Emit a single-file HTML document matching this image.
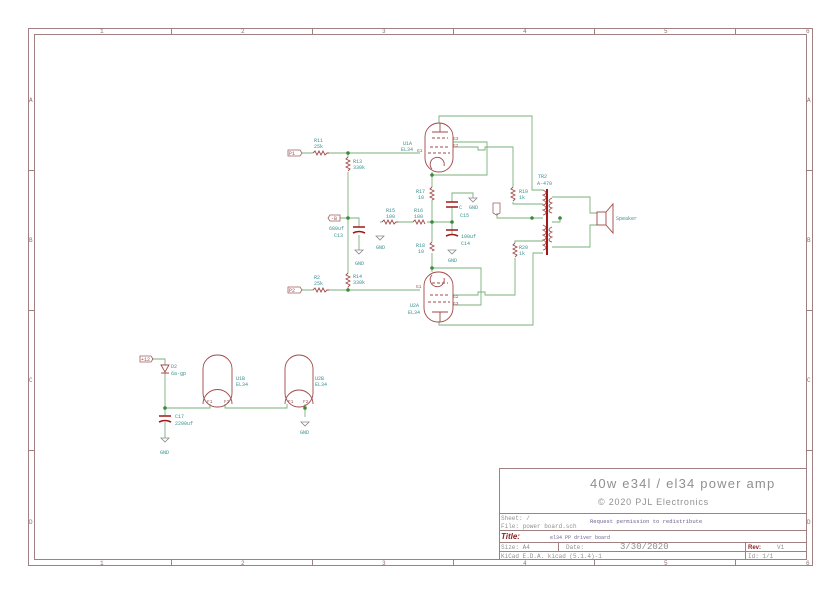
<!DOCTYPE html>
<html><head><meta charset="utf-8"><style>
html,body{margin:0;padding:0;background:#fff;}
svg{display:block;}
</style></head><body>
<svg width="840" height="593" viewBox="0 0 840 593" xmlns="http://www.w3.org/2000/svg" font-family="Liberation Mono, DejaVu Sans Mono, monospace">
<rect width="840" height="593" fill="#fff"/>
<g fill="none" stroke="#a08080" stroke-width="1">
<rect x="28.5" y="28.5" width="784" height="537"/>
<rect x="34.5" y="34.5" width="772" height="525"/>
<path d="M171.5 28v6M312.5 28v6M453.5 28v6M594.5 28v6M735.5 28v6M171.5 560v6M312.5 560v6M453.5 560v6M594.5 560v6M735.5 560v6M28 170.5h6M28 310.5h6M28 450.5h6M806 170.5h6M806 310.5h6M806 450.5h6"/>
<path d="M499.5 468v92M499.5 468.5H806M499.5 513.5H806M499.5 530.5H806M499.5 542.5H806M499.5 551.5H806M558.5 542v9M745.5 542v18"/>
</g>
<g font-size="6" fill="#907070">
<text x="100" y="33">1</text><text x="241" y="33">2</text><text x="382" y="33">3</text><text x="523" y="33">4</text><text x="664" y="33">5</text><text x="806" y="33">6</text>
<text x="100" y="565">1</text><text x="241" y="565">2</text><text x="382" y="565">3</text><text x="523" y="565">4</text><text x="664" y="565">5</text><text x="806" y="565">6</text>
<text x="29" y="102">A</text><text x="29" y="242">B</text><text x="29" y="382">C</text><text x="29" y="524">D</text>
<text x="807" y="102">A</text><text x="807" y="242">B</text><text x="807" y="382">C</text><text x="807" y="524">D</text>
</g>
<!-- title block -->
<g fill="#909090">
<text x="590" y="488" font-size="13" font-family="Liberation Sans, sans-serif" letter-spacing="1.2">40w e34l / el34 power amp</text>
<text x="598" y="505" font-size="9" font-family="Liberation Sans, sans-serif" letter-spacing="0.8">© 2020 PJL Electronics</text>
<text x="501" y="520" font-size="6">Sheet: /</text>
<text x="501" y="528" font-size="6">File: power board.sch</text>
<text x="590" y="523" font-size="5.5" fill="#706090">Request permission to redistribute</text>
<text x="550" y="539" font-size="5" fill="#706090">el34 PP  driver board</text>
<text x="501" y="549" font-size="6">Size: A4</text>
<text x="566" y="549" font-size="6">Date:</text>
<text x="620" y="549" font-size="9">3/30/2020</text>
<text x="777" y="549" font-size="6">V1</text>
<text x="501" y="558" font-size="6">KiCad E.D.A.  kicad (5.1.4)-1</text>
<text x="748" y="558" font-size="6">Id: 1/1</text>
</g>
<text x="501" y="539" font-size="8" font-weight="bold" font-style="italic" fill="#902020" font-family="Liberation Sans, sans-serif">Title:</text>
<text x="748" y="549" font-size="6" font-weight="bold" fill="#902020" font-family="Liberation Sans, sans-serif">Rev:</text>

<!-- wires -->
<g fill="none" stroke="#7ab07a" stroke-width="0.9">
<path d="M302 153H313M329 153H420M348 153V157M348 172V273M348 287V290M302 290H313M329 290H420"/>
<path d="M340 218H359V227M359 235V250"/>
<path d="M380 222H382M398 222H413M427 222H452V235M452 207V222M452 202V193H473V198"/>
<path d="M432 172V187M432 200V242M432 253V272"/>
<path d="M439 123V116H532V190H543M439 322V325H533V253H543"/>
<path d="M453 142H487V175H432M453 147H478V150H485V147H513V187M513 202V204H543"/>
<path d="M432 268H481V305H453M453 295H478V292H485V295H515V258M515 243V241H543"/>
<path d="M497 213V218H543"/>
<path d="M552 197H590V213H597M552 247H590V225H597M552 222H560V218"/>
<path d="M152 359H165V365M165 373V416M165 422V438M165 408H210V404M225 404V408H287V404M305 404V417"/>
</g>
<g fill="#3a8a3a">
<circle cx="348" cy="153" r="1.8"/><circle cx="348" cy="218" r="1.8"/><circle cx="348" cy="290" r="1.8"/>
<circle cx="432" cy="175" r="1.8"/><circle cx="432" cy="222" r="1.8"/><circle cx="452" cy="222" r="1.8"/><circle cx="432" cy="268" r="1.8"/>
<circle cx="532" cy="218" r="1.8"/><circle cx="560" cy="218" r="1.8"/>
<circle cx="165" cy="408" r="1.8"/><circle cx="305" cy="408" r="1.8"/>
</g>
<!-- components -->
<g fill="none" stroke="#a04848" stroke-width="0.9">
<path d="M313 153l2-2 2 4 2-4 2 4 2-4 2 4 2-2 2 0"/>
<path d="M313 290l2-2 2 4 2-4 2 4 2-4 2 4 2-2 2 0"/>
<path d="M348 157l-2 2 4 2-4 2 4 2-4 2 4 2-2 2"/>
<path d="M348 273l-2 2 4 2-4 2 4 2-4 2 4 2-2 2"/>
<path d="M382 222l2-2 2 4 2-4 2 4 2-4 2 4 2-2 2 0"/>
<path d="M413 222l2-2 2 4 2-4 2 4 2-4 2 4"/>
<path d="M432 187l-2 2 4 2-4 2 4 2-4 2 4 2-2 1"/>
<path d="M432 242l-2 2 4 2-4 2 4 2-2 1"/>
<path d="M513 187l-2 2 4 2-4 2 4 2-4 2 4 2-2 2"/>
<path d="M515 243l-2 2 4 2-4 2 4 2-4 2 4 2-2 2"/>
<rect x="425" y="123" width="28" height="49" rx="14"/>
<rect x="424" y="272" width="29" height="50" rx="14"/>
<rect x="203" y="355" width="29" height="52" rx="14"/>
<rect x="285" y="355" width="28" height="52" rx="14"/>
<path d="M203 404a8 8 0 0 1 29 0M285 404a8 8 0 0 1 28 0"/>
<path d="M432 138h16M430 147h18M428 153h22M432 283h16M430 295h18M428 302h22" stroke-dasharray="3 2"/>
<path d="M432 132h16M440 132v-9M432 312h16M440 312v10"/>
<path d="M432 169a7 7 0 1 1 12 -3M432 275a7 7 0 1 0 12 3"/>
<path d="M543 190c4 2 4 4 0 5c4 2 4 4 0 5c4 2 4 4 0 5c4 2 4 4 0 5c4 2 4 4 0 5M543 225c4 2 4 4 0 5c4 2 4 4 0 5c4 2 4 4 0 5c4 2 4 4 0 5c4 2 4 4 0 5M552 198c-4 2-4 4 0 5c-4 2-4 4 0 5c-4 2-4 4 0 5M552 227c-4 2-4 4 0 5c-4 2-4 4 0 5c-4 2-4 4 0 5"/>
<rect x="597" y="212" width="9" height="13"/>
<path d="M606 212l7-8v29l-7-8"/>
<path d="M161 365h8l-4 7zM161 373h8"/>
</g>
<path d="M547 189V255" stroke="#a01818" stroke-width="2"/>
<g stroke="#a01818" stroke-width="1.6" fill="none">
<path d="M353 227h12M353 233q6-3 12 0M446 202h12M446 207h12M446 230h12M446 236q6-3 12 0M159 416h12M159 422q6-3 12 0"/>
</g>
<g fill="none" stroke="#8a8a8a" stroke-width="0.8">
<path d="M355 250h8l-4 4zM448 250h8l-4 4zM469 198h8l-4 4zM376 236h8l-4 4zM161 438h8l-4 4zM301 422h8l-4 4z"/>
</g>
<g fill="none" stroke="#a06060" stroke-width="0.8">
<path d="M288 150h12l2 3-2 3h-12zM288 287h12l2 3-2 3h-12zM330 215h10v6h-10l-2-3zM140 356h11l2 3-2 3h-11zM493 203h7v10l-3.5 2-3.5-2z"/>
</g>
<g font-size="5" fill="#3a9090">
<text x="289" y="155" fill="#a05050">P1</text><text x="289" y="292" fill="#a05050">P2</text>
<text x="331" y="220" fill="#a05050">-B</text><text x="141" y="361" fill="#a05050">+12</text>
<text x="314" y="142">R11</text><text x="314" y="148">25k</text>
<text x="314" y="279">R2</text><text x="314" y="285">25k</text>
<text x="353" y="163">R13</text><text x="353" y="169">330k</text>
<text x="353" y="278">R14</text><text x="353" y="284">330k</text>
<text x="329" y="230">680uf</text><text x="334" y="237">C13</text>
<text x="386" y="212">R15</text><text x="386" y="218">100</text>
<text x="414" y="212">R16</text><text x="414" y="218">100</text>
<text x="416" y="193">R17</text><text x="418" y="199">10</text>
<text x="416" y="247">R18</text><text x="418" y="253">10</text>
<text x="459" y="209">C</text><text x="460" y="217">C15</text>
<text x="461" y="238">100uf</text><text x="461" y="245">C14</text>
<text x="403" y="145">U1A</text><text x="401" y="151">EL34</text>
<text x="410" y="307">U2A</text><text x="408" y="314">EL34</text>
<text x="519" y="193">R19</text><text x="519" y="199">1k</text>
<text x="519" y="249">R20</text><text x="519" y="255">1k</text>
<text x="538" y="178">TR2</text><text x="537" y="185">A-470</text>
<text x="616" y="220">Speaker</text>
<text x="171" y="368">D2</text><text x="171" y="375">6a-gp</text>
<text x="175" y="418">C17</text><text x="175" y="425">2200uf</text>
<text x="236" y="380">U1B</text><text x="236" y="386">EL34</text>
<text x="315" y="380">U2B</text><text x="315" y="386">EL34</text>
<text x="355" y="265">GND</text><text x="376" y="249">GND</text><text x="448" y="262">GND</text><text x="469" y="209">GND</text>
<text x="160" y="454">GND</text><text x="300" y="434">GND</text>
</g>
<g font-size="4.5" fill="#a05050">
<text x="417" y="152">G1</text><text x="453" y="140">G3</text><text x="453" y="147">G2</text>
<text x="416" y="288">G1</text><text x="453" y="298">G2</text><text x="453" y="305">G3</text>
<text x="207" y="403">F1</text><text x="224" y="403">F2</text><text x="288" y="403">F1</text><text x="303" y="403">F2</text>
</g>
</svg>
</body></html>
